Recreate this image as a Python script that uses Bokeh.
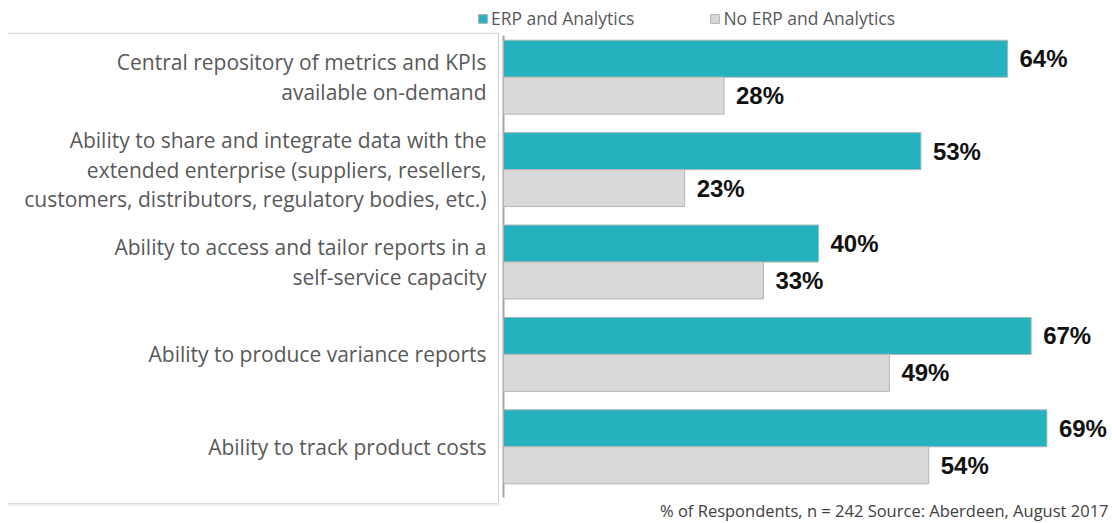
from bokeh.plotting import figure
from bokeh.models import (FactorRange, Range1d, ColumnDataSource, LabelSet, Legend,
                          LegendItem, Label)
from bokeh.transform import dodge
from bokeh.embed import file_html
from bokeh.resources import INLINE
from bokeh.core.properties import value

categories = [
    "Central repository of metrics and KPIs\navailable on-demand",
    "Ability to share and integrate data with the\nextended enterprise (suppliers, resellers,\ncustomers, distributors, regulatory bodies, etc.)",
    "Ability to access and tailor reports in a\nself-service capacity",
    "Ability to produce variance reports",
    "Ability to track product costs",
]
erp = [64, 53, 40, 67, 69]
no_erp = [28, 23, 33, 49, 54]
series_names = ["ERP and Analytics", "No ERP and Analytics"]
footer = "% of Respondents, n = 242 Source: Aberdeen, August 2017"

TEAL = "#25b1bd"
GREY = "#d9d9d9"
TXT = "#595959"

src = ColumnDataSource(dict(
    cat=categories,
    erp=erp,
    no_erp=no_erp,
    erp_lbl=[f"{v}%" for v in erp],
    no_erp_lbl=[f"{v}%" for v in no_erp],
))
# first / last category, used for the axis line and the label box
ends = ColumnDataSource(dict(first=[categories[0]], last=[categories[-1]]))

W, H = 1112, 523
PX_PER_UNIT = 7.875
AXIS_X = 503  # pixel position of the value axis inside the canvas

p = figure(width=W, height=H, output_backend="svg", toolbar_location=None,
           y_range=FactorRange(factors=list(reversed(categories)),
                               range_padding=0.33, range_padding_units="absolute"),
           x_range=Range1d(-AXIS_X / PX_PER_UNIT, (W - AXIS_X) / PX_PER_UNIT),
           min_border=0)
p.outline_line_color = None
p.xgrid.visible = False
p.ygrid.visible = False
p.xaxis.visible = False
p.yaxis.visible = False

BOX_L = -(AXIS_X - 8) / PX_PER_UNIT
BOX_R = -5 / PX_PER_UNIT
box_top = dodge("first", 0.474, range=p.y_range)
box_bot = dodge("last", -0.613, range=p.y_range)
box_shadow = dodge("last", -0.628, range=p.y_range)

# box around the category labels (top, right, bottom edges + soft shadow)
p.segment(x0=BOX_L, x1=BOX_R + 0.15, y0=box_shadow, y1=box_shadow,
          source=ends, line_color="#ececec", line_width=2)
p.segment(x0=BOX_L, x1=BOX_R, y0=box_top, y1=box_top,
          source=ends, line_color="#d2d2d2", line_width=1)
p.segment(x0=BOX_R, x1=BOX_R, y0=box_top, y1=box_bot,
          source=ends, line_color="#cfcfcf", line_width=1)
p.segment(x0=BOX_L, x1=BOX_R, y0=box_bot, y1=box_bot,
          source=ends, line_color="#d9d9d9", line_width=1)

# value axis line
p.segment(x0=0, x1=0,
          y0=dodge("last", -0.548, range=p.y_range),
          y1=dodge("first", 0.452, range=p.y_range),
          source=ends, line_color="#a6a6a6", line_width=2)

y_top = dodge("cat", 0.2, range=p.y_range)
y_bot = dodge("cat", -0.2, range=p.y_range)

r1 = p.hbar(y=y_top, left=0, right="erp", height=0.4, source=src,
            fill_color=TEAL, line_color="#a9b4b5", line_width=1)
r2 = p.hbar(y=y_bot, left=0, right="no_erp", height=0.4, source=src,
            fill_color=GREY, line_color="#b5b5b5", line_width=1)

for col, yy in (("erp_lbl", dict(y=y_top, x="erp")), ("no_erp_lbl", dict(y=y_bot, x="no_erp"))):
    p.add_layout(LabelSet(x=yy["x"], y=yy["y"], text=col, source=src, x_offset=12,
                          text_baseline="middle", text_align="left",
                          text_font=value("Liberation Sans"), text_font_style="bold",
                          text_font_size="24px", text_color="#111111"))

# category labels
p.text(x=0, y="cat", text="cat", source=src, x_offset=-17,
       text_align="right", text_baseline="middle",
       text_font=value("Open Sans"), text_font_size="21px",
       text_color=TXT, text_line_height=1.06)

legend = Legend(items=[LegendItem(label=series_names[0], renderers=[r1]),
                       LegendItem(label=series_names[1], renderers=[r2])],
                location=(477, 493), orientation="horizontal",
                padding=0, margin=0, spacing=75, border_line_color=None,
                background_fill_alpha=0, glyph_width=11, glyph_height=11,
                label_standoff=3, label_text_font="Open Sans",
                label_text_font_size="17.5px", label_text_color=TXT)
p.add_layout(legend, "center")

p.add_layout(Label(x=(1108 - AXIS_X) / PX_PER_UNIT, y=13, x_units="data", y_units="screen",
                   text=footer, text_align="right", text_baseline="alphabetic",
                   text_font="Open Sans", text_font_size="16.5px", text_color="#404040"))

open("out.html", "w").write(file_html(p, INLINE))
